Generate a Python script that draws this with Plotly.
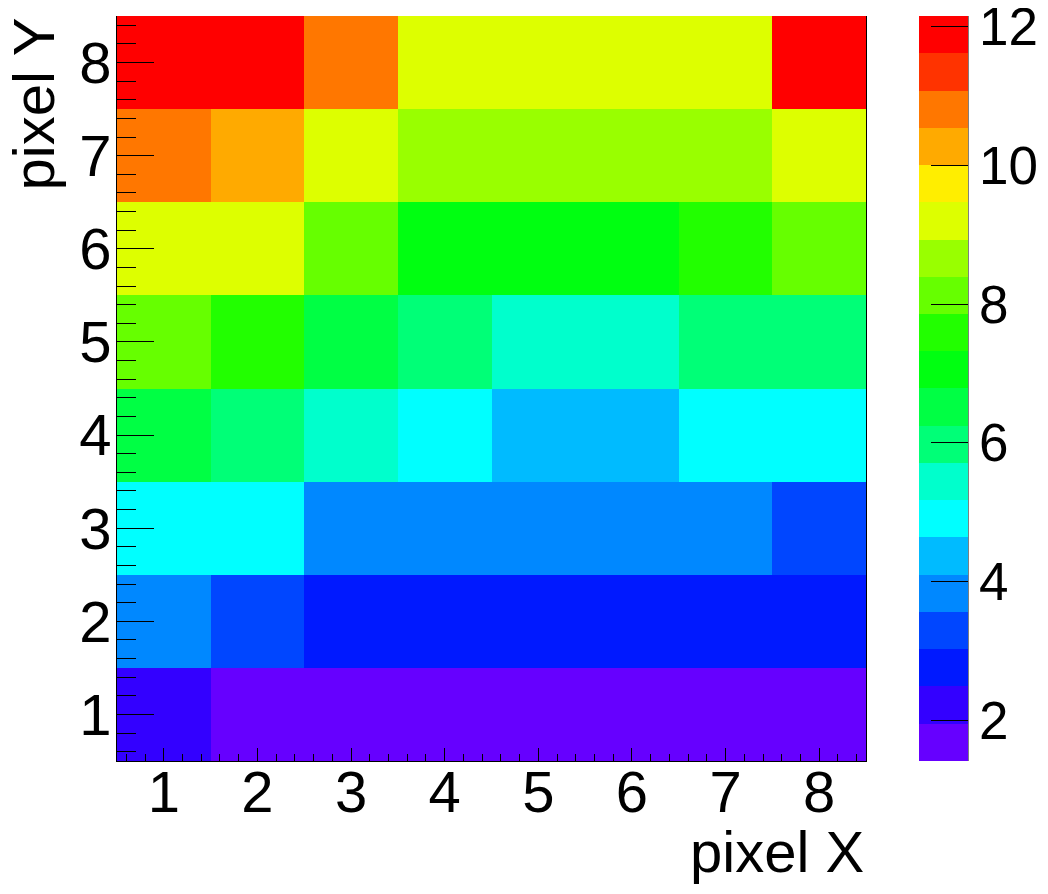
import plotly.graph_objects as go

# Data: pixel grid values (rows = pixel Y 1..8, columns = pixel X 1..8)
pixel_x = [1, 2, 3, 4, 5, 6, 7, 8]
pixel_y = [1, 2, 3, 4, 5, 6, 7, 8]
values = [
    [2.3, 1.6, 1.5, 1.42, 1.5, 1.6, 1.7, 1.8],
    [3.9, 3.4, 2.8, 2.7, 2.7, 2.8, 2.9, 3.0],
    [4.8, 4.9, 3.8, 3.9, 3.9, 3.8, 3.9, 3.3],
    [6.5, 6.0, 5.5, 5.0, 4.4, 4.4, 5.0, 5.1],
    [8.2, 7.5, 6.6, 6.1, 5.6, 5.5, 6.0, 6.1],
    [9.3, 9.2, 8.2, 7.1, 7.0, 7.1, 7.7, 8.3],
    [10.9, 10.3, 9.3, 8.7, 8.6, 8.6, 8.8, 9.2],
    [12.15, 11.9, 10.8, 9.4, 9.3, 9.3, 9.4, 12.0],
]
z_min = 1.417
z_max = 12.15
colorbar_ticks = [2, 4, 6, 8, 10, 12]

# ROOT-like discrete palette (20 contour levels)
band_colors = [
    "#6600ff", "#3300ff", "#0019ff", "#0046ff", "#0088ff",
    "#00bbff", "#00ffff", "#00ffcc", "#00ff77", "#00ff44",
    "#00ff11", "#22ff00", "#66ff00", "#99ff00", "#ddff00",
    "#ffee00", "#ffaa00", "#ff7700", "#ff3300", "#ff0000",
]
n = len(band_colors)
colorscale = []
for k, c in enumerate(band_colors):
    colorscale.append([k / n, c])
    colorscale.append([(k + 1) / n, c])

FONT = "Liberation Sans, Arial, sans-serif"
FS = 58
FS_CB = 53

# page body has an 8px margin, so the figure is laid out 8px up/left
W, H = 1040, 878
L, T = 109, 8
PLOT_W, PLOT_H = 749, 745

fig = go.Figure(
    go.Heatmap(
        x=pixel_x,
        y=pixel_y,
        z=values,
        zmin=z_min,
        zmax=z_max,
        colorscale=colorscale,
        xgap=0,
        ygap=0,
        colorbar=dict(
            x=(919 - 117) / PLOT_W,
            xanchor="left",
            xpad=0,
            ypad=0,
            y=0.5,
            yanchor="middle",
            len=1,
            lenmode="fraction",
            thickness=49,
            thicknessmode="pixels",
            outlinewidth=0,
            tickvals=colorbar_ticks,
            ticks="inside",
            ticklen=37,
            tickwidth=1,
            tickcolor="black",
            ticklabeloverflow="allow",
            tickfont=dict(family=FONT, size=FS_CB, color="black"),
        ),
    )
)

fig.update_layout(
    width=W,
    height=H,
    margin=dict(l=L, r=W - L - PLOT_W, t=T, b=H - T - PLOT_H, autoexpand=False),
    paper_bgcolor="white",
    plot_bgcolor="white",
    font=dict(family=FONT, size=FS, color="black"),
    xaxis=dict(
        range=[0.5, 8.5],
        tickvals=pixel_x,
        ticks="inside",
        ticklen=13,
        tickwidth=1,
        tickcolor="black",
        showgrid=False,
        zeroline=False,
        showline=True,
        linecolor="black",
        linewidth=1,
        automargin=False,
        tickfont=dict(family=FONT, size=FS),
        ticklabelstandoff=-20,
        minor=dict(dtick=0.2, tick0=0, ticks="inside", ticklen=7, tickcolor="black", showgrid=False),
    ),
    yaxis=dict(
        range=[0.5, 8.5],
        tickvals=pixel_y,
        ticks="inside",
        ticklen=37,
        tickwidth=1,
        tickcolor="black",
        showgrid=False,
        zeroline=False,
        showline=True,
        mirror=True,
        linecolor="black",
        linewidth=1,
        automargin=False,
        tickfont=dict(family=FONT, size=FS),
        ticklabelstandoff=-7,
        minor=dict(dtick=0.2, tick0=0, ticks="inside", ticklen=19, tickcolor="black", showgrid=False),
    ),
    annotations=[
        dict(text="pixel X", xref="paper", yref="paper", x=1, y=0, xanchor="right",
             yanchor="top", yshift=-56, showarrow=False, font=dict(family=FONT, size=FS)),
        dict(text="pixel Y", xref="paper", yref="paper", x=0, y=1, xanchor="center",
             yanchor="top", xshift=-84, textangle=-90, showarrow=False,
             font=dict(family=FONT, size=FS)),
    ],
    shapes=[
        dict(type="line", xref="paper", yref="paper", x0=(968 - 117) / PLOT_W, x1=(968 - 117) / PLOT_W,
             y0=0, y1=1, line=dict(color="black", width=1)),
    ],
)

fig.write_html("out.html")
